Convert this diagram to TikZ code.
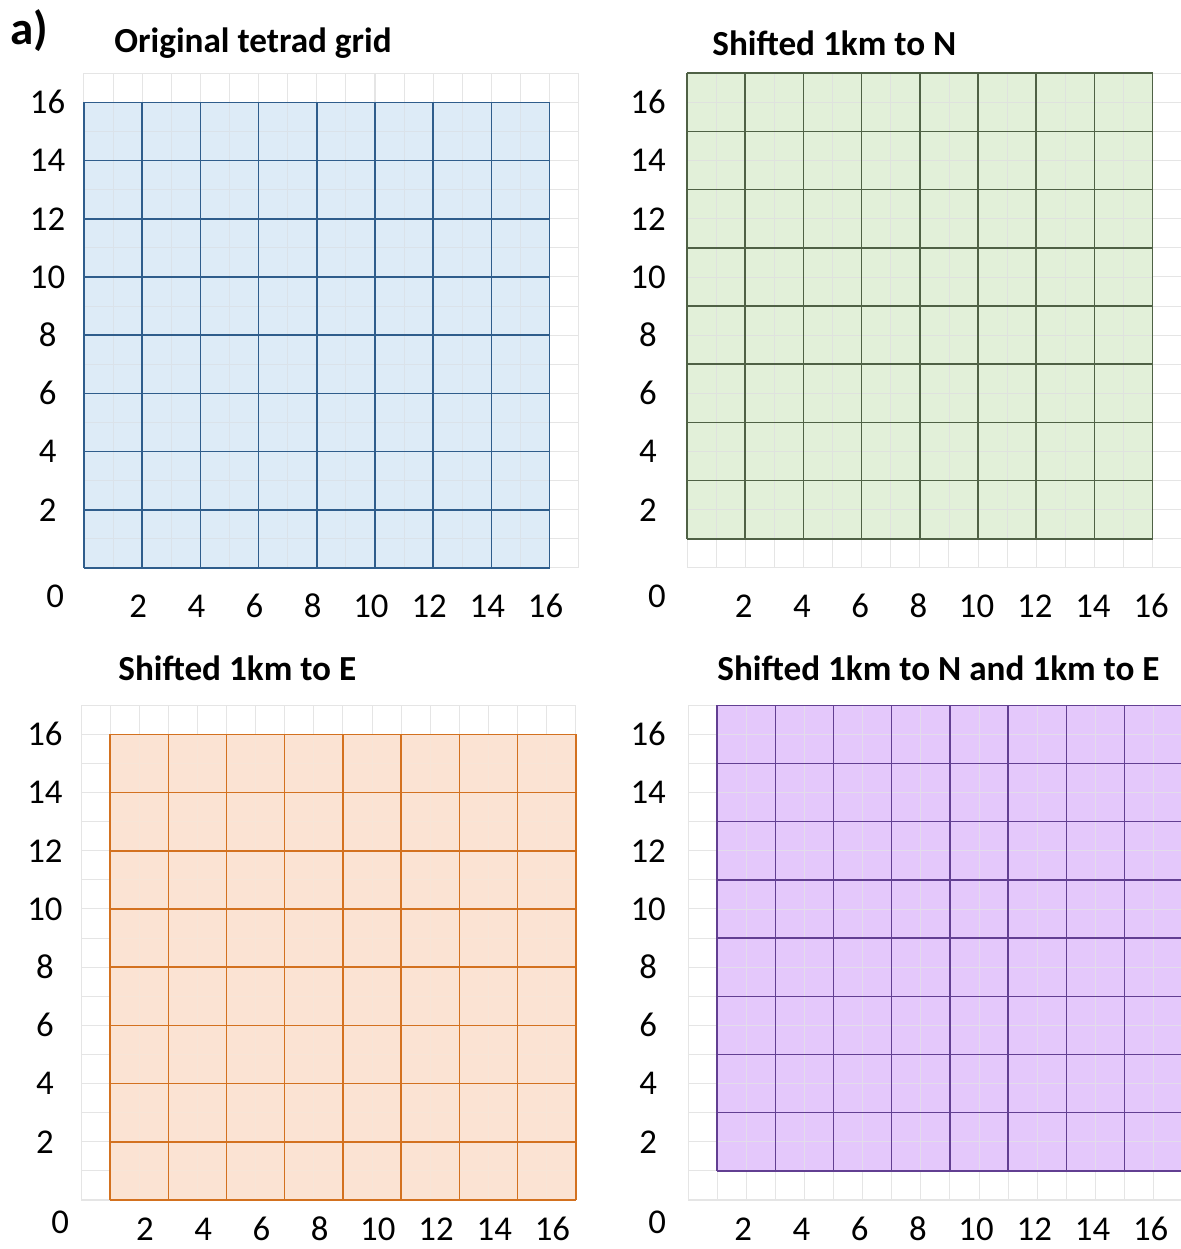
\documentclass[tikz,border=0pt]{standalone}
\usepackage{fontspec}
\setmainfont{Carlito}
\usepackage{xcolor}
\definecolor{blueFill}{HTML}{DDEBF7}
\definecolor{blueLine}{HTML}{2F5D8C}
\definecolor{greenFill}{HTML}{E2F0D9}
\definecolor{greenLine}{HTML}{4F6145}
\definecolor{orangeFill}{HTML}{FBE3D3}
\definecolor{orangeLine}{HTML}{D3711F}
\definecolor{purpleFill}{HTML}{E4C8FB}
\definecolor{purpleLine}{HTML}{623F92}

\begin{document}
\begin{tikzpicture}[
  ticklab/.style={font=\fontsize{17}{19}\selectfont},
  paneltitle/.style={anchor=west,inner sep=0pt,font=\bfseries\fontsize{17.2}{19}\selectfont},
  bggrid/.style={draw=gray!20,line width=0.5pt},
  tetrad/.style={line width=0.75pt}]
\useasboundingbox (0,0) rectangle (20.275,21.460);

\node[anchor=west,inner sep=0pt,font=\bfseries\fontsize{23}{25}\selectfont] (lab) at (0.17,20.94) {a)};

% original grid
\node[paneltitle] (t1) at (1.959,20.72) {Original tetrad grid};
\begin{scope}[shift={(1.443,11.701)},x=0.5cm,y=0.5cm]
\foreach \i in {0,...,17} {
  \draw[bggrid] (\i,0) -- (\i,17);
  \draw[bggrid] (0,\i) -- (17,\i);
}
\fill[blueFill] (0,0) rectangle (16,16);
\foreach \i in {1,3,...,15} {
  \draw[blueLine!18] (\i,0) -- (\i,16);
  \draw[blueLine!18] (0,\i) -- (16,\i);
}
\foreach \i in {0,2,...,16} {
  \draw[tetrad,blueLine] (\i,0) -- (\i,16);
  \draw[tetrad,blueLine] (0,\i) -- (16,\i);
}
\foreach \v in {2,4,...,16} {
  \node[ticklab] (ax\v) at (\v-0.14,-1.31) {\v};
  \node[ticklab] (ay\v) at (-1.25,\v) {\v};
}
\node[ticklab] (a0) at (-0.99,-0.96) {0};
\end{scope}

% shifted north
\node[paneltitle] (t2) at (12.233,20.72) {Shifted 1km to N};
\begin{scope}[shift={(11.804,11.701)},x=0.5cm,y=0.5cm]
\foreach \i in {0,...,17} {
  \draw[bggrid] (\i,0) -- (\i,17);
  \draw[bggrid] (0,\i) -- (17,\i);
}
\begin{scope}[shift={(0,1)}]
\fill[greenFill] (0,0) rectangle (16,16);
\foreach \i in {1,3,...,15} {
  \draw[greenLine!18] (\i,0) -- (\i,16);
  \draw[greenLine!18] (0,\i) -- (16,\i);
}
\foreach \i in {0,2,...,16} {
  \draw[tetrad,greenLine] (\i,0) -- (\i,16);
  \draw[tetrad,greenLine] (0,\i) -- (16,\i);
}
\end{scope}
\foreach \v in {2,4,...,16} {
  \node[ticklab] (bx\v) at (\v-0.05,-1.31) {\v};
  \node[ticklab] (by\v) at (-1.34,\v) {\v};
}
\node[ticklab] (b0) at (-1.03,-0.96) {0};
\end{scope}

% shifted east
\node[paneltitle] (t3) at (2.027,9.983) {Shifted 1km to E};
\begin{scope}[shift={(1.392,0.842)},x=0.5cm,y=0.5cm]
\foreach \i in {0,...,17} {
  \draw[bggrid] (\i,0) -- (\i,17);
  \draw[bggrid] (0,\i) -- (17,\i);
}
\begin{scope}[shift={(1,0)}]
\fill[orangeFill] (0,0) rectangle (16,16);
\foreach \i in {1,3,...,15} {
  \draw[orangeLine!18] (\i,0) -- (\i,16);
  \draw[orangeLine!18] (0,\i) -- (16,\i);
}
\foreach \i in {0,2,...,16} {
  \draw[tetrad,orangeLine] (\i,0) -- (\i,16);
  \draw[tetrad,orangeLine] (0,\i) -- (16,\i);
}
\end{scope}
\foreach \v in {2,4,...,16} {
  \node[ticklab] (cx\v) at (\v+0.2,-1.0) {\v};
  \node[ticklab] (cy\v) at (-1.24,\v) {\v};
}
\node[ticklab] (c0) at (-0.72,-0.76) {0};
\end{scope}

% shifted north and east
\node[paneltitle] (t4) at (12.32,9.983) {Shifted 1km to N and 1km to E};
\begin{scope}[shift={(11.821,0.842)},x=0.5cm,y=0.5cm]
\foreach \i in {0,...,17} {
  \draw[bggrid] (\i,0) -- (\i,17);
  \draw[bggrid] (0,\i) -- (17,\i);
}
\begin{scope}[shift={(1,1)}]
\fill[purpleFill] (0,0) rectangle (16,16);
\foreach \i in {1,3,...,15} {
  \draw[purpleLine!18] (\i,0) -- (\i,16);
  \draw[purpleLine!18] (0,\i) -- (16,\i);
}
\foreach \i in {0,2,...,16} {
  \draw[tetrad,purpleLine] (\i,0) -- (\i,16);
  \draw[tetrad,purpleLine] (0,\i) -- (16,\i);
}
\end{scope}
\foreach \v in {2,4,...,16} {
  \node[ticklab] (dx\v) at (\v-0.1,-1.0) {\v};
  \node[ticklab] (dy\v) at (-1.37,\v) {\v};
}
\node[ticklab] (d0) at (-1.06,-0.76) {0};
\end{scope}
\end{tikzpicture}
\end{document}
